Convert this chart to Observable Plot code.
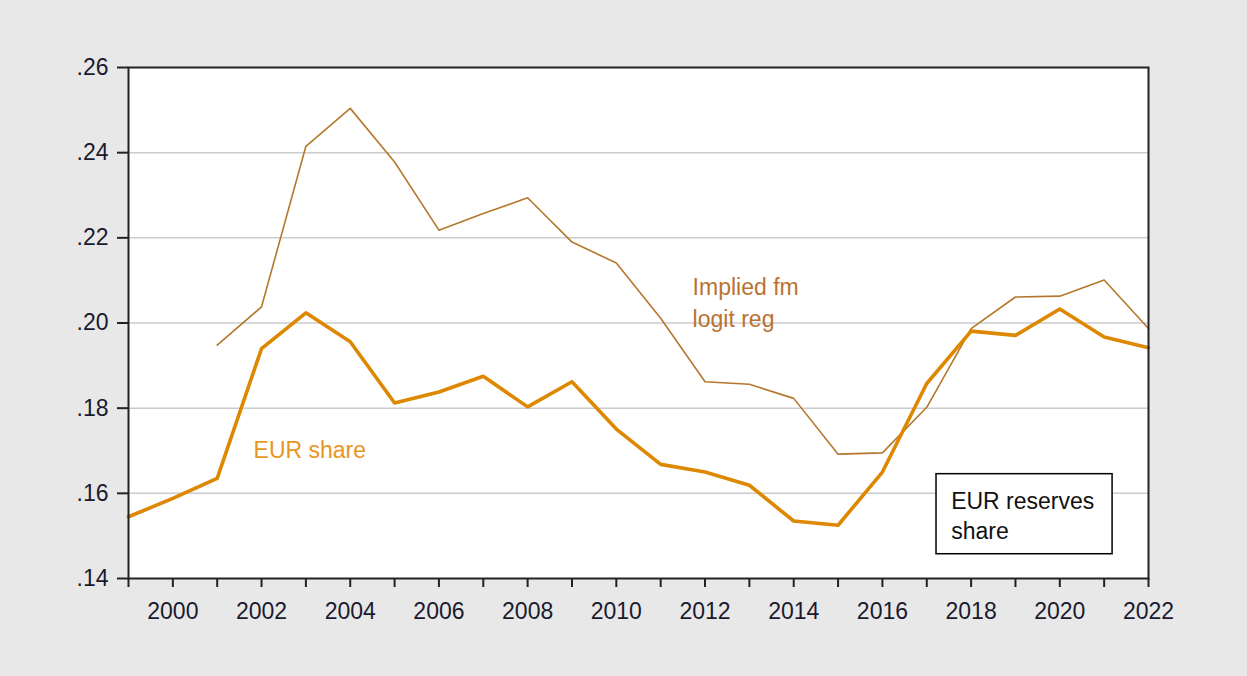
<!DOCTYPE html>
<html>
<head>
<meta charset="utf-8">
<script src="https://cdn.jsdelivr.net/npm/d3@7"></script>
<script src="https://cdn.jsdelivr.net/npm/@observablehq/plot@0.6"></script>
<style>
  html, body { margin: 0; padding: 0; background: #e8e8e8; }
  #chart svg { display: block; }
</style>
</head>
<body>
<div id="chart"></div>
<script>
const eurYears = d3.range(1999, 2023);
const eurShare = [0.1545, 0.1588, 0.1635, 0.1940, 0.2024, 0.1956, 0.1812, 0.1838, 0.1875, 0.1803,
                  0.1862, 0.1751, 0.1668, 0.1650, 0.1619, 0.1535, 0.1525, 0.1650, 0.1858, 0.1981,
                  0.1971, 0.2033, 0.1967, 0.1942];
const impliedYears = d3.range(2001, 2023);
const implied = [0.1948, 0.2038, 0.2415, 0.2504, 0.2378, 0.2218, 0.2257, 0.2294, 0.2190, 0.2141,
                 0.2011, 0.1862, 0.1856, 0.1823, 0.1692, 0.1695, 0.1802, 0.1987, 0.2061, 0.2063,
                 0.2101, 0.1987];
const yTicks = [0.14, 0.16, 0.18, 0.20, 0.22, 0.24, 0.26];
const gridTicks = [0.16, 0.18, 0.20, 0.22, 0.24];
const xTicks = d3.range(1999, 2023);
const xLabelYears = d3.range(2000, 2023, 2);

const eurData = eurYears.map((y, i) => ({year: y, value: eurShare[i]}));
const impData = impliedYears.map((y, i) => ({year: y, value: implied[i]}));

const labels = [
  {year: 2011.72, value: 0.2052, text: "Implied fm\nlogit reg", color: "#b87333"},
  {year: 2001.82, value: 0.1708, text: "EUR share", color: "#e8961e"}
];
const legendBox = [{x1: 2017.22, x2: 2021.19, y1: 0.1457, y2: 0.1645}];
const legendText = [{year: 2017.55, value: 0.1551, text: "EUR reserves\nshare"}];

const font = "'Liberation Sans', Arial, sans-serif";

const chart = Plot.plot({
  width: 1247,
  height: 676,
  marginLeft: 128,
  marginRight: 99,
  marginTop: 67,
  marginBottom: 98,
  style: {background: "#e8e8e8", fontFamily: font, fontSize: "23px", color: "#1a1a2e"},
  x: {domain: [1999, 2022]},
  y: {domain: [0.14, 0.26]},
  marks: [
    Plot.frame({fill: "white"}),
    Plot.gridY(gridTicks, {stroke: "#cccccc", strokeOpacity: 1, strokeWidth: 1.5}),
    Plot.line(impData, {x: "year", y: "value", stroke: "#b4782c", strokeWidth: 1.6}),
    Plot.line(eurData, {x: "year", y: "value", stroke: "#dd8800", strokeWidth: 3.6}),
    Plot.text(labels, {x: "year", y: "value", text: "text", fill: "color", textAnchor: "start",
      lineHeight: 1.39, fontSize: 23, fontFamily: font}),
    Plot.rect(legendBox, {x1: "x1", x2: "x2", y1: "y1", y2: "y2", fill: "white", stroke: "black", strokeWidth: 1.5}),
    Plot.text(legendText, {x: "year", y: "value", text: "text", fill: "#111", textAnchor: "start",
      lineHeight: 1.3, fontSize: 23, fontFamily: font}),
    Plot.frame({stroke: "#222", strokeWidth: 2}),
    Plot.axisY({ticks: yTicks, tickFormat: d => d.toFixed(2).replace(/^0/, ""), tickSize: 11,
      tickPadding: 9, stroke: "#222", strokeWidth: 2, label: null, fontSize: 23, fill: "#1a1a2e"}),
    Plot.axisX({ticks: xTicks, tickFormat: d => (d % 2 === 0 ? String(d) : ""), tickSize: 9,
      tickPadding: 15, stroke: "#222", strokeWidth: 2, label: null, fontSize: 23, fill: "#1a1a2e"})
  ]
});
document.getElementById("chart").appendChild(chart);
</script>
</body>
</html>
